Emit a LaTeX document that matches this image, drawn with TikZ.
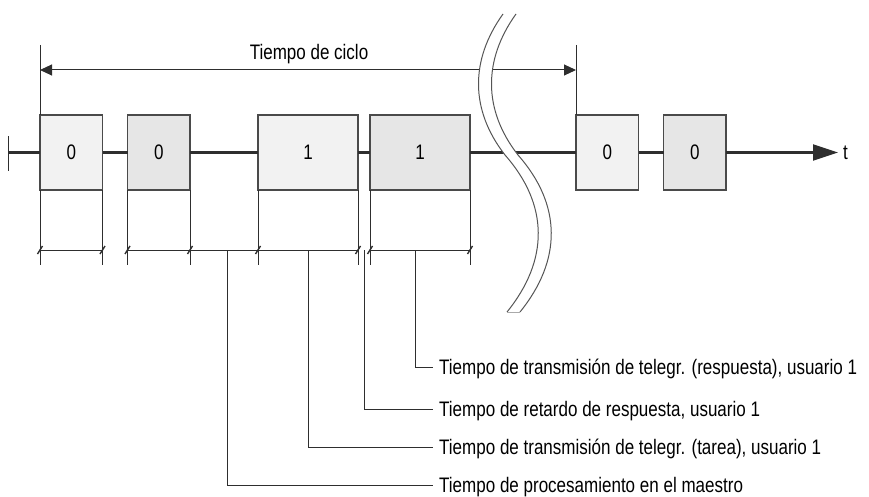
\documentclass[tikz,border=0pt]{standalone}
\usepackage{fontspec}
\setmainfont{Liberation Sans}[FakeStretch=0.81]
\usepackage{tikz}
\usetikzlibrary{arrows.meta, positioning}
\definecolor{ink}{HTML}{2E2E2E}
\definecolor{frame}{HTML}{4A4A4A}
\definecolor{reqfill}{HTML}{F2F2F2}
\definecolor{rspfill}{HTML}{E6E6E6}
\definecolor{cutgray}{HTML}{555555}

\begin{document}
\begin{tikzpicture}[
  x=1pt, y=-1pt,
  tel/.style={rectangle, draw=frame, line width=1.1pt, minimum height=75pt,
              inner sep=0pt, outer sep=0pt, text height=15pt, text depth=0pt,
              font=\fontsize{21}{25}\selectfont},
  req/.style={tel, fill=reqfill},
  rsp/.style={tel, fill=rspfill},
  lbl/.style={anchor=west, inner xsep=6pt, inner ysep=0pt, text height=15pt,
              text depth=0pt, font=\fontsize{21}{25}\selectfont},
  thin/.style={draw=ink, line width=1pt},
  tk/.style={draw=ink, line width=1.4pt},
  tl/.style={draw=ink, line width=2.2pt},
  cutline/.style={draw=cutgray, line width=1pt}
]
  \useasboundingbox (0,0) rectangle (869,497);

  % telegrams on the bus
  \node[req, minimum width=62.5pt] (b1) at (71.25,152.5) {0};
  \node[rsp, minimum width=62.5pt, right=25pt of b1] (b2) {0};
  \node[req, minimum width=100pt, right=68pt of b2] (b3) {1};
  \node[rsp, minimum width=100pt, right=12pt of b3] (b4) {1};
  \node[req, minimum width=62.5pt] (b5) at (607.25,152.5) {0};
  \node[rsp, minimum width=62.5pt, right=25pt of b5] (b6) {0};

  % time axis
  \coordinate (t0) at (8,152.5);
  \coordinate (tend) at (838,152.5);
  \draw[thin] ([yshift=16pt]t0) -- ([yshift=-19pt]t0);
  \draw[tl] (t0) -- (b1.west);
  \draw[tl] (b1.east) -- (b2.west);
  \draw[tl] (b2.east) -- (b3.west);
  \draw[tl] (b3.east) -- (b4.west);
  \draw[tl] (b4.east) -- (b5.west);
  \draw[tl] (b5.east) -- (b6.west);
  \draw[tl, -{Triangle[length=25pt, width=16pt]}] (b6.east) -- (tend);
  \node[anchor=west, inner sep=0pt, text height=15pt, text depth=0pt,
        font=\fontsize{21}{25}\selectfont] (tlab) at (843,152.5) {t};

  % cycle time
  \coordinate (cL) at (40,45);
  \coordinate (cR) at (576,45);
  \coordinate (aL) at (40,70);
  \coordinate (aR) at (576,70);
  \draw[thin] (cL) -- (b1.north west);
  \draw[thin] (cR) -- (b5.north west);
  \draw[thin, {Triangle[length=12pt, width=11pt]}-{Triangle[length=12pt, width=11pt]}] (aL) -- (aR);
  \node[inner sep=0pt, text height=15pt, text depth=0pt,
        font=\fontsize{21}{25}\selectfont] (ciclo) at (309,52) {Tiempo de ciclo};

  % break in the time axis
  \fill[white] (503,14) .. controls (470,60) and (470,110) .. (505,155)
    .. controls (549,205) and (549,260) .. (507,312) -- (520,312)
    .. controls (562,260) and (562,205) .. (518,155)
    .. controls (483,110) and (483,60) .. (516,14) -- cycle;
  \foreach \dx in {0pt,13pt}
    \draw[cutline, xshift=\dx] (503,14) .. controls (470,60) and (470,110) .. (505,155)
      .. controls (549,205) and (549,260) .. (507,312);
  \draw[draw=cutgray!50, line width=1pt] (507,312) -- (520,312);

  % dimension lines
  \foreach \b in {b1,b2,b3,b4} {
    \draw[thin] (\b.south west) -- ++(0,75);
    \draw[thin] (\b.south east) -- ++(0,75);
    \foreach \a in {south west,south east}
      \draw[tk] ([xshift=-2.5pt,yshift=-64pt]\b.\a) -- ([xshift=2.5pt,yshift=-56pt]\b.\a);
  }
  \foreach \l/\r in {b1/b1,b2/b3,b4/b4}
    \draw[thin] ([yshift=-60pt]\l.south west) -- ([yshift=-60pt]\r.south east);

  % legend
  \coordinate (mres) at (415,250);
  \coordinate (mret) at (364,250);
  \coordinate (mtar) at (308,250);
  \coordinate (mpro) at (227,250);
  \node[lbl] (lres) at (433,367) {Tiempo de transmisión de telegr. (respuesta), usuario 1};
  \node[lbl] (lret) at (433,409) {Tiempo de retardo de respuesta, usuario 1};
  \node[lbl] (ltar) at (433,447) {Tiempo de transmisión de telegr. (tarea), usuario 1};
  \node[lbl] (lpro) at (433,485) {Tiempo de procesamiento en el maestro};
  \draw[thin] (mres) |- (lres.west);
  \draw[thin] (mret) |- (lret.west);
  \draw[thin] (mtar) |- (ltar.west);
  \draw[thin] (mpro) |- (lpro.west);
\end{tikzpicture}
\end{document}
